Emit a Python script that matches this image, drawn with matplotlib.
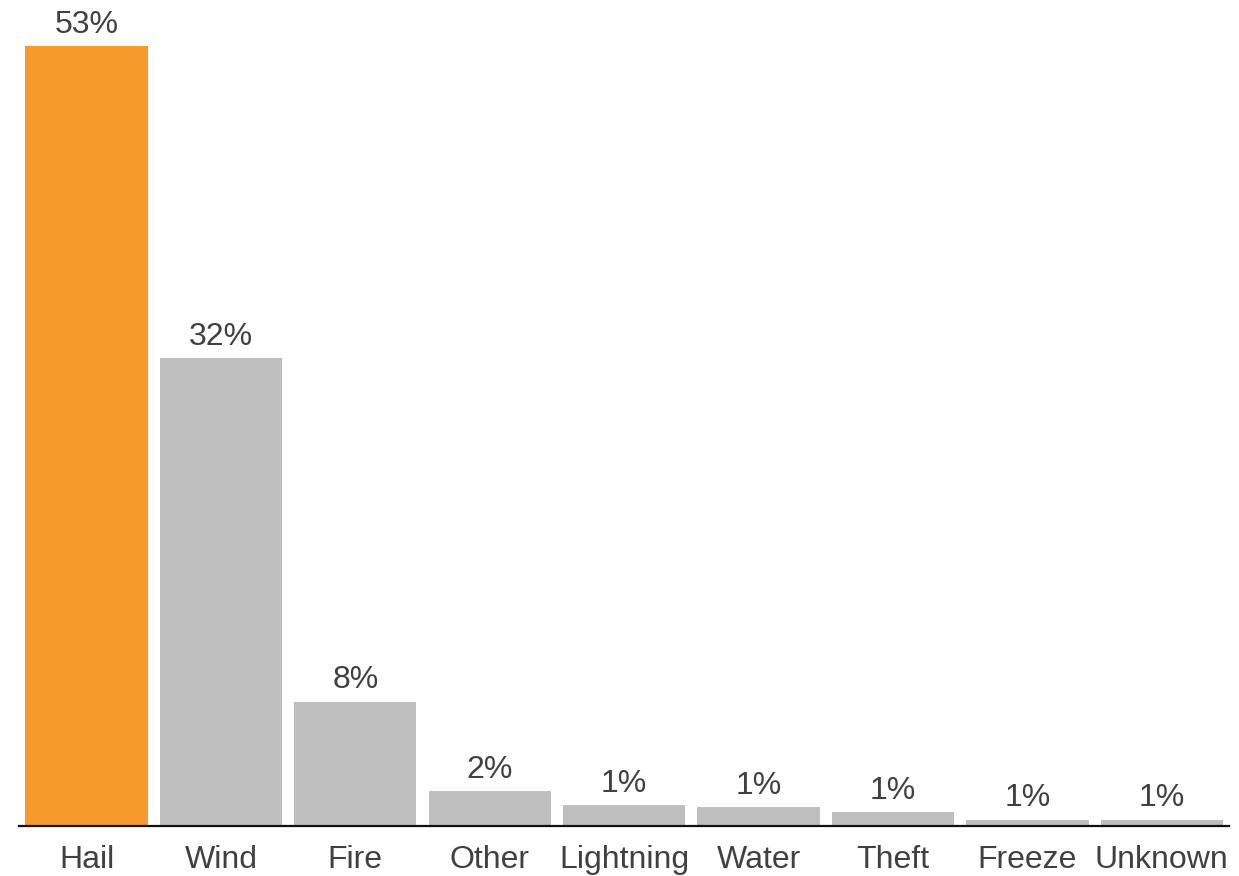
import matplotlib.pyplot as plt

categories = ['Hail', 'Wind', 'Fire', 'Other', 'Lightning', 'Water', 'Theft', 'Freeze', 'Unknown']
shares = [53, 31.8, 8.46, 2.38, 1.43, 1.26, 0.92, 0.44, 0.44]
share_labels = ['53%', '32%', '8%', '2%', '1%', '1%', '1%', '1%', '1%']

orange = '#F79A2C'
grey = '#BFBFBF'
text_col = '#404040'

plt.rcParams['font.family'] = ['Liberation Sans', 'DejaVu Sans']

fig = plt.figure(figsize=(12.39, 8.76), dpi=100)
ax = fig.add_axes([19.3 / 1239, 1 - 826 / 876, (1229 - 19.3) / 1239, 826 / 876])

colors = [orange] + [grey] * (len(categories) - 1)
x = range(len(categories))
bars = ax.bar(x, shares, width=0.91, color=colors, zorder=2)

for b, lab in zip(bars, share_labels):
    ax.annotate(lab, (b.get_x() + b.get_width() / 2, b.get_height()),
                xytext=(0, 9.5), textcoords='offset points',
                ha='center', va='baseline', fontsize=23, color=text_col,
                annotation_clip=False)

ax.set_xlim(-0.5, 8.5)
ax.set_ylim(0, 53 * 826 / 779.5)

for s in ['top', 'right', 'left']:
    ax.spines[s].set_visible(False)
ax.spines['bottom'].set_linewidth(1.6)
ax.spines['bottom'].set_color('#111111')
ax.spines['bottom'].set_zorder(3)

ax.set_yticks([])
ax.set_xticks(list(x))
ax.set_xticklabels(categories, fontsize=23, color=text_col)
ax.tick_params(axis='x', length=0, pad=14)

fig.savefig('out.png', dpi=100)
